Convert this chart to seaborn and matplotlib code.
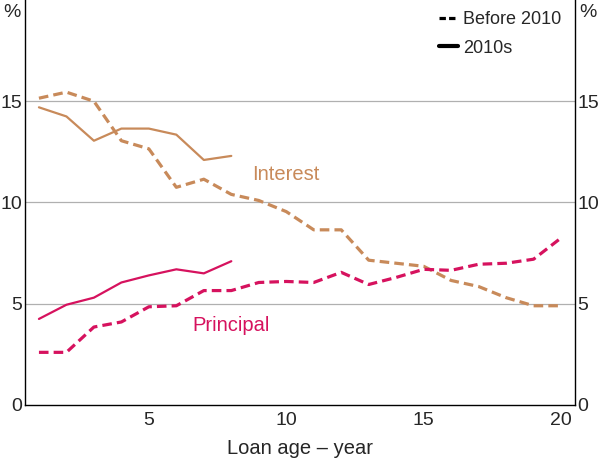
import matplotlib
matplotlib.use("Agg")
import matplotlib.pyplot as plt
import seaborn as sns
import pandas as pd
from matplotlib.lines import Line2D
from matplotlib.ticker import FixedLocator

# loan age in years
years = list(range(1, 21))
years_2010s = list(range(1, 9))

interest_pre2010 = [15.15, 15.45, 15.0, 13.05, 12.65, 10.75, 11.15, 10.4, 10.1, 9.55,
                    8.65, 8.65, 7.15, 7.0, 6.85, 6.15, 5.85, 5.3, 4.9, 4.9]
interest_2010s = [14.7, 14.25, 13.05, 13.65, 13.65, 13.35, 12.1, 12.3]
principal_pre2010 = [2.6, 2.6, 3.85, 4.1, 4.85, 4.9, 5.65, 5.65, 6.05, 6.1,
                     6.05, 6.55, 5.95, 6.3, 6.7, 6.65, 6.95, 7.0, 7.2, 8.25]
principal_2010s = [4.25, 4.95, 5.3, 6.05, 6.4, 6.7, 6.5, 7.1]

interest_col = "#C88A5A"
principal_col = "#D6125E"

sns.set_style("white")
plt.rcParams['font.family'] = ['Liberation Sans', 'DejaVu Sans']

fig = plt.figure(figsize=(6, 4.61), dpi=100)
ax = fig.add_axes([0.042, 0.1215, 0.916, 0.8785])

dash = (3, 1.6)
sns.lineplot(x=years, y=interest_pre2010, ax=ax, color=interest_col, lw=2.3)
ax.lines[-1].set_dashes(dash)
sns.lineplot(x=years_2010s, y=interest_2010s, ax=ax, color=interest_col, lw=1.6)
sns.lineplot(x=years, y=principal_pre2010, ax=ax, color=principal_col, lw=2.3)
ax.lines[-1].set_dashes(dash)
sns.lineplot(x=years_2010s, y=principal_2010s, ax=ax, color=principal_col, lw=1.6)

ax.set_xlim(0.5, 20.5)
ax.set_ylim(0, 20)

# horizontal grid
for v in [5, 10, 15]:
    ax.axhline(v, color="#B0B0B0", lw=0.9, zorder=0)

ax.set_xticks([5, 10, 15, 20])
ax.xaxis.set_minor_locator(FixedLocator([i + 0.5 for i in range(1, 20)]))
ax.tick_params(axis="x", which="major", length=0, labelsize=14, pad=5)
ax.tick_params(axis="x", which="minor", direction="in", length=6, width=0.9, color="black")
ax.set_yticks([0, 5, 10, 15])
ax.tick_params(axis="y", length=0, labelsize=14, pad=2,
               left=True, right=True, labelleft=True, labelright=True)

for side in ["left", "right", "bottom"]:
    ax.spines[side].set_color("black")
    ax.spines[side].set_linewidth(1.0)
ax.spines["top"].set_visible(False)

ax.set_xlabel("Loan age – year", fontsize=14.5, labelpad=7)
ax.text(-0.008, 0.99, "%", transform=ax.transAxes, ha="right", va="top", fontsize=14)
ax.text(1.008, 0.99, "%", transform=ax.transAxes, ha="left", va="top", fontsize=14)

ax.text(10.0, 11.4, "Interest", color=interest_col, fontsize=14.5, ha="center", va="center")
ax.text(8.0, 3.95, "Principal", color=principal_col, fontsize=14.5, ha="center", va="center")

handles = [Line2D([], [], color="black", lw=2.3, dashes=(2, 1)),
           Line2D([], [], color="black", lw=3.0)]
ax.legend(handles, ["Before 2010", "2010s"], loc="upper right", frameon=False,
          fontsize=13, handlelength=1.0, handletextpad=0.3, labelspacing=0.65,
          borderaxespad=0.2, bbox_to_anchor=(0.995, 1.0))

fig.savefig("out.png", dpi=100)
